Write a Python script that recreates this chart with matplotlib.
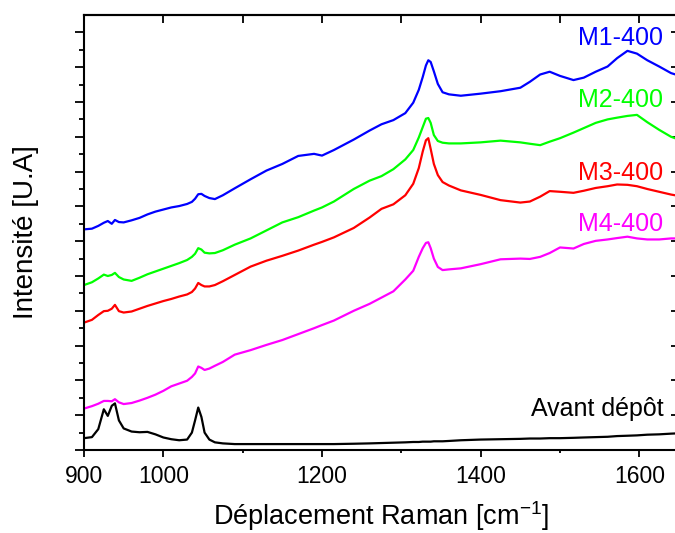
import numpy as np
import matplotlib
matplotlib.use("Agg")
import matplotlib.pyplot as plt

plt.rcParams['font.family'] = ['Liberation Sans', 'DejaVu Sans']
plt.rcParams['mathtext.fontset'] = 'custom'
plt.rcParams['mathtext.rm'] = 'Liberation Sans'
plt.rcParams['mathtext.it'] = 'Liberation Sans'

# --- spectra (Raman shift in cm-1, arbitrary intensity) ---
shift = [900, 910, 918, 925, 930, 935, 939, 944, 950, 960, 970, 980, 990, 1000,
         1010, 1020, 1030, 1036, 1040, 1044, 1048, 1052, 1058, 1065, 1075, 1090,
         1110, 1130, 1150, 1170, 1190, 1200, 1215, 1240, 1260, 1275, 1290, 1305,
         1315, 1322, 1327, 1331, 1334, 1337, 1341, 1346, 1352, 1360, 1375, 1400,
         1425, 1450, 1462, 1475, 1487, 1500, 1517, 1530, 1545, 1560, 1572, 1585,
         1597, 1610, 1625, 1640, 1650]

m1_400 = [6.34, 6.36, 6.44, 6.53, 6.58, 6.50, 6.61, 6.55, 6.54, 6.60, 6.67, 6.77, 6.85, 6.91,
          6.97, 7.01, 7.07, 7.13, 7.22, 7.35, 7.36, 7.30, 7.24, 7.21, 7.32, 7.52,
          7.78, 8.03, 8.22, 8.45, 8.51, 8.46, 8.62, 8.92, 9.18, 9.36, 9.48, 9.68,
          9.98, 10.35, 10.72, 11.05, 11.20, 11.15, 10.88, 10.52, 10.28, 10.22, 10.18, 10.24,
          10.31, 10.41, 10.58, 10.79, 10.87, 10.75, 10.63, 10.70, 10.87, 11.02, 11.26, 11.47,
          11.39, 11.20, 11.02, 10.83, 10.76]

m2_400 = [4.74, 4.82, 4.93, 5.04, 5.00, 5.03, 5.09, 4.97, 4.90, 4.86, 4.95, 5.05, 5.13, 5.21,
          5.29, 5.37, 5.46, 5.55, 5.64, 5.80, 5.76, 5.67, 5.65, 5.66, 5.74, 5.90,
          6.08, 6.31, 6.54, 6.69, 6.88, 6.97, 7.14, 7.50, 7.74, 7.87, 8.07, 8.35,
          8.62, 8.98, 9.28, 9.52, 9.54, 9.40, 9.05, 8.88, 8.83, 8.81, 8.81, 8.84,
          8.89, 8.84, 8.80, 8.76, 8.86, 8.96, 9.12, 9.25, 9.40, 9.50, 9.55, 9.60,
          9.63, 9.42, 9.20, 9.00, 8.92]

m3_400 = [3.66, 3.74, 3.88, 3.99, 4.00, 4.06, 4.17, 3.99, 3.95, 3.98, 4.06, 4.14, 4.21, 4.28,
          4.34, 4.41, 4.47, 4.54, 4.64, 4.80, 4.74, 4.70, 4.70, 4.74, 4.85, 5.03,
          5.27, 5.44, 5.58, 5.73, 5.90, 5.98, 6.11, 6.38, 6.68, 6.93, 7.06, 7.32,
          7.65, 8.10, 8.58, 8.90, 8.96, 8.65, 8.22, 7.90, 7.70, 7.60, 7.46, 7.33,
          7.18, 7.11, 7.14, 7.28, 7.44, 7.42, 7.39, 7.45, 7.53, 7.58, 7.63, 7.62,
          7.58, 7.50, 7.42, 7.34, 7.30]

m4_400 = [1.19, 1.26, 1.33, 1.41, 1.41, 1.40, 1.46, 1.37, 1.32, 1.35, 1.42, 1.50, 1.59, 1.70,
          1.83, 1.91, 1.99, 2.10, 2.20, 2.40, 2.36, 2.30, 2.34, 2.42, 2.53, 2.74,
          2.87, 3.02, 3.16, 3.33, 3.50, 3.59, 3.72, 4.00, 4.20, 4.38, 4.56, 4.90,
          5.15, 5.55, 5.80, 5.95, 5.97, 5.80, 5.50, 5.26, 5.17, 5.19, 5.22, 5.34,
          5.48, 5.50, 5.49, 5.55, 5.66, 5.82, 5.79, 5.92, 6.01, 6.05, 6.09, 6.13,
          6.08, 6.05, 6.05, 6.08, 6.08]

avant_depot = [0.34, 0.37, 0.60, 1.17, 0.98, 1.27, 1.34, 0.85, 0.62, 0.53, 0.51, 0.52, 0.45, 0.36,
               0.31, 0.28, 0.30, 0.50, 0.85, 1.22, 0.95, 0.50, 0.30, 0.22, 0.19, 0.17,
               0.17, 0.17, 0.17, 0.17, 0.17, 0.17, 0.17, 0.18, 0.19, 0.20, 0.21, 0.22,
               0.23, 0.23, 0.24, 0.24, 0.24, 0.24, 0.25, 0.25, 0.25, 0.26, 0.28, 0.30,
               0.31, 0.32, 0.33, 0.33, 0.34, 0.34, 0.35, 0.36, 0.37, 0.38, 0.40, 0.41,
               0.42, 0.44, 0.45, 0.47, 0.48]

series = [(m1_400, 'M1-400', '#0000ff', 11.64),
          (m2_400, 'M2-400', '#00ff00', 9.86),
          (m3_400, 'M3-400', '#ff0000', 7.76),
          (m4_400, 'M4-400', '#ff00ff', 6.29),
          (avant_depot, 'Avant dépôt', 'black', 0.98)]

fig = plt.figure(figsize=(6.75, 5.33), dpi=100)
ax = fig.add_axes([84 / 675, 83 / 533, 595 / 675, 435 / 533])

for vals, name, col, ytxt in series:
    ax.plot(shift, vals, color=col, lw=1.6)
    ax.text(1630, ytxt, name, color=col, fontsize=18, ha='right', va='baseline')

ax.set_xlim(900, 1650)
ax.set_ylim(0, 12.5)

ax.set_xticks([900, 1000, 1200, 1400, 1600])
ax.set_xticks([1100, 1300, 1500], minor=True)
ax.set_yticks(np.arange(0, 13, 1))
ax.set_yticks(np.arange(0.5, 12.5, 1), minor=True)
ax.tick_params(axis='x', which='major', direction='out', length=5, width=1.3,
               labelsize=16.5, pad=6)
ax.tick_params(axis='x', which='minor', direction='out', length=2.5, width=1.3)
ax.tick_params(axis='y', which='major', direction='out', length=6.5, width=1.3, labelleft=False)
ax.tick_params(axis='y', which='minor', direction='out', length=3.5, width=1.3)

# inward ticks on top and right, no labels
top = ax.secondary_xaxis('top')
top.set_xticks(np.arange(900, 1700, 100))
top.tick_params(direction='in', length=6, width=1.3, labeltop=False)
right = ax.secondary_yaxis('right')
right.set_yticks(np.arange(0, 13, 1))
right.tick_params(direction='in', length=6, width=1.3, labelright=False)

for sp in ax.spines.values():
    sp.set_linewidth(1.5)
top.spines['top'].set_linewidth(1.5)
right.spines['right'].set_linewidth(1.5)

ax.set_xlabel(r'Déplacement Raman [cm$^{\mathregular{-1}}$]', fontsize=19.5, labelpad=8)
ax.set_ylabel('Intensité [U.A]', fontsize=20, labelpad=25.5)

fig.savefig('out.png', dpi=100)
